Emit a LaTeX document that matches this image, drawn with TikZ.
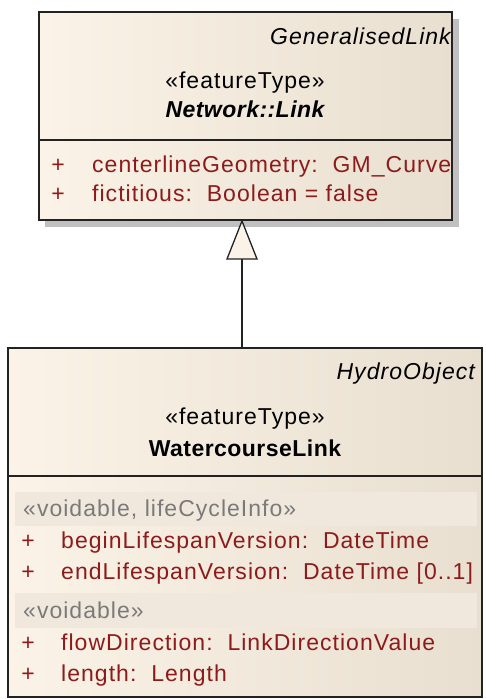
\documentclass[tikz,border=0pt]{standalone}
\usepackage{fontspec}
\setmainfont{Liberation Sans}[LetterSpace=4.5, BoldFeatures={LetterSpace=2}, BoldItalicFeatures={LetterSpace=2}]
\usetikzlibrary{shapes.geometric}
\definecolor{boxleft}{HTML}{FBF3E7}
\definecolor{boxright}{HTML}{E8DFD0}
\definecolor{bandfill}{HTML}{F0E8DC}
\definecolor{attrred}{HTML}{8E1B1B}
\definecolor{stereogrey}{HTML}{7A7A7A}
\definecolor{shadowgrey}{HTML}{C0C0C0}
\definecolor{edge}{HTML}{222222}
\tikzset{
  x=1pt, y=-1pt,
  classbox/.style={left color=boxleft, right color=boxright, draw=edge, line width=1.3pt},
  band/.style={fill=bandfill, draw=none},
  txt/.style={inner sep=0pt, font=\fontsize{23}{26}\selectfont},
  attr/.style={txt, text=attrred, anchor=base west},
  plus/.style={txt, text=attrred, anchor=base},
  stereo/.style={txt, text=stereogrey, anchor=base west},
  title/.style={txt, anchor=base},
  parent/.style={txt, font=\fontsize{23}{26}\selectfont\itshape, anchor=base east},
  conn/.style={draw=edge, line width=1.3pt},
  realize/.style={draw=edge, line width=1.3pt, fill=boxleft, line join=miter}
}
\begin{document}
\begin{tikzpicture}
\useasboundingbox (0,0) rectangle (485,699);

% ---- Network::Link ----
\fill[shadowgrey] (45,19) rectangle (459,227);
\path[classbox] (39,12) rectangle (452,220);
\coordinate (linkTop) at (242,221);
\begin{scope}
  \clip (39,12) rectangle (452,220);
  \node[parent] (linkParent) at (451,44) {GeneralisedLink};
  \node[title] (linkStereo) at (245,88) {«featureType»};
  \node[title, font=\fontsize{23}{26}\selectfont\bfseries\itshape] (linkName) at (245,117) {Network::Link};
  \node[plus] (lp1) at (58,172) {+};
  \node[attr] (la1) at (92,172) {centerlineGeometry:\ \ GM\_Curve};
  \node[plus] (lp2) at (58,201) {+};
  \node[attr] (la2) at (92,201) {fictitious:\ \ Boolean = false};
\end{scope}
\draw[draw=edge, line width=1.3pt] (39,140) -- (452,140);

% ---- WatercourseLink ----
\path[classbox] (8,348) rectangle (482,697);
\coordinate (wlTop) at (242,348);
\begin{scope}
  \clip (8,348) rectangle (482,697);
  \node[parent] (wlParent) at (475,379) {HydroObject};
  \node[title] (wlStereo) at (245,424) {«featureType»};
  \node[title, font=\fontsize{23}{26}\selectfont\bfseries] (wlName) at (245,456) {WatercourseLink};
  \path[band] (15,492) rectangle (477,526);
  \node[stereo] (wlS1) at (23,516) {«voidable, lifeCycleInfo»};
  \node[plus] (wp1) at (28,548) {+};
  \node[attr] (wa1) at (61,548) {beginLifespanVersion:\ \ DateTime};
  \node[plus] (wp2) at (28,579) {+};
  \node[attr] (wa2) at (61,579) {endLifespanVersion:\ \ DateTime [0..1]};
  \path[band] (15,593) rectangle (477,628);
  \node[stereo] (wlS2) at (23,618) {«voidable»};
  \node[plus] (wp3) at (28,650) {+};
  \node[attr] (wa3) at (61,650) {flowDirection:\ \ LinkDirectionValue};
  \node[plus] (wp4) at (28,681) {+};
  \node[attr] (wa4) at (61,681) {length:\ \ Length};
\end{scope}
\draw[draw=edge, line width=1.3pt] (8,476) -- (482,476);

% ---- generalisation ----
\coordinate (triBase) at (242,259);
\draw[conn] (wlTop) -- (triBase);
\path[realize] (linkTop) -- (227,259) -- (257,259) -- cycle;
\end{tikzpicture}
\end{document}
